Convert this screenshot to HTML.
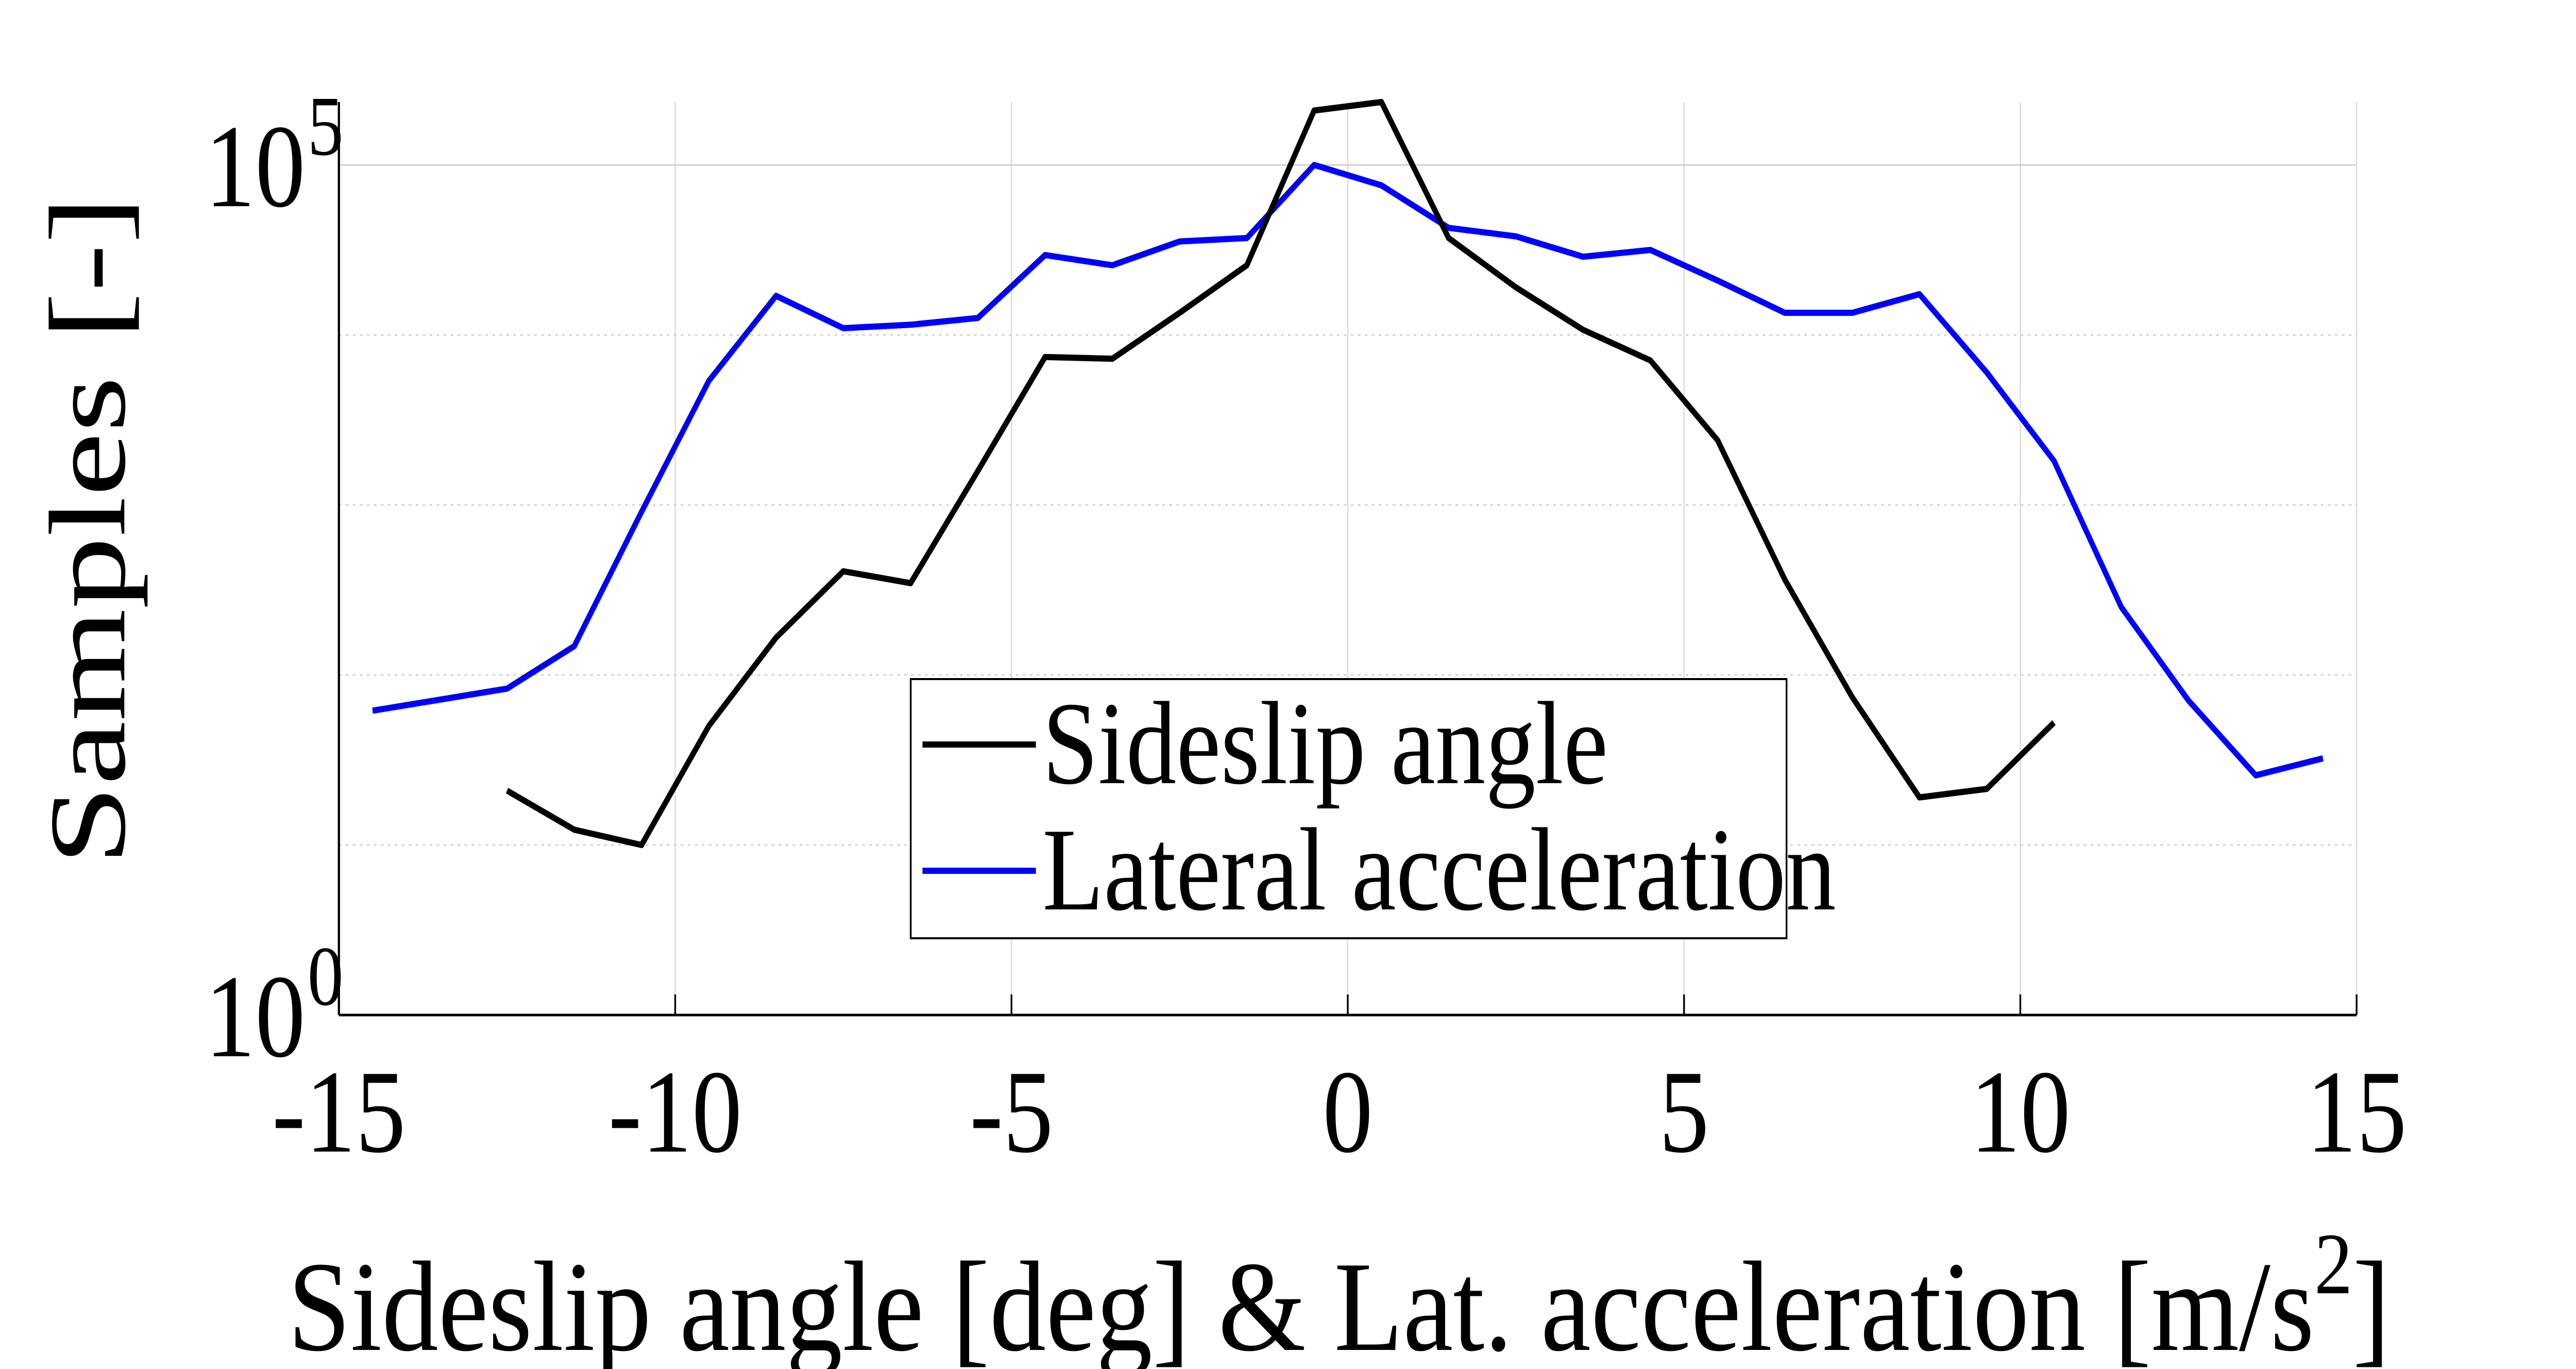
<!DOCTYPE html>
<html><head><meta charset="utf-8"><style>
html,body{margin:0;padding:0;background:#fff;width:100%;height:100%;overflow:hidden;}
svg{display:block;font-family:"Liberation Serif",serif;width:100vw;height:100vh;}
</style></head><body>
<svg id="chart" viewBox="0 0 5906 2657" preserveAspectRatio="none" xmlns="http://www.w3.org/2000/svg">
<rect width="5906" height="2657" fill="#fff"/>
<g id="grid"></g>
<g id="series"></g>
<g id="axes"></g>
<text x="660" y="2620" font-size="250" textLength="4820" lengthAdjust="spacingAndGlyphs">Sideslip angle [deg] &amp; Lat. acceleration [m/s<tspan dy="-110" font-size="170">2</tspan><tspan dy="110">]</tspan></text>
<text transform="translate(285,1680) rotate(-90)" font-size="250" textLength="1300" lengthAdjust="spacingAndGlyphs">Samples [-]</text>
<g>
<rect x="2088" y="1318" width="2008" height="503" fill="#fff" stroke="#000" stroke-width="4"/>
<line x1="2115" y1="1445" x2="2375" y2="1445" stroke="#000" stroke-width="12"/>
<text x="2390" y="1520" font-size="230">Sideslip angle</text>
<line x1="2115" y1="1690" x2="2375" y2="1690" stroke="#0000ff" stroke-width="12"/>
<text x="2390" y="1765" font-size="230">Lateral acceleration</text>
</g>
</svg>
<script>
const xTicks=[-15,-10,-5,0,5,10,15];
const yTickExps=[0,1,2,3,4,5];
const sideslipX=[-12.5,-11.5,-10.5,-9.5,-8.5,-7.5,-6.5,-5.5,-4.5,-3.5,-2.5,-1.5,-0.5,0.5,1.5,2.5,3.5,4.5,5.5,6.5,7.5,8.5,9.5,10.5];
const sideslipLog=[1.32,1.09,1.0,1.7,2.22,2.61,2.54,3.2,3.87,3.86,4.13,4.41,5.32,5.37,4.57,4.28,4.03,3.85,3.38,2.56,1.87,1.28,1.33,1.72];
const lateralX=[-14.5,-12.5,-11.5,-10.5,-9.5,-8.5,-7.5,-6.5,-5.5,-4.5,-3.5,-2.5,-1.5,-0.5,0.5,1.5,2.5,3.5,4.5,5.5,6.5,7.5,8.5,9.5,10.5,11.5,12.5,13.5,14.5];
const lateralLog=[1.79,1.92,2.17,2.96,3.73,4.23,4.04,4.06,4.1,4.47,4.41,4.55,4.57,5.0,4.88,4.63,4.58,4.46,4.5,4.32,4.13,4.13,4.24,3.78,3.26,2.4,1.85,1.41,1.51];

const NS="http://www.w3.org/2000/svg";
const L=777,R=5403,T=198,B=1970;
const xMin=-15,xMax=15,yMin=0,yMax=5.37;
const sx=v=>L+(v-xMin)/(xMax-xMin)*(R-L);
const sy=v=>B-(v-yMin)/(yMax-yMin)*(B-T);
function mk(tag,attrs,parent){const e=document.createElementNS(NS,tag);for(const k in attrs)e.setAttribute(k,attrs[k]);parent.appendChild(e);return e;}
const grid=document.getElementById('grid'),axes=document.getElementById('axes'),series=document.getElementById('series');
xTicks.forEach(t=>{
  const g=mk('line',{x1:sx(t),x2:sx(t),y1:T,y2:B,stroke:'#dcdcdc','stroke-width':3},grid);
  
  
  const tk=mk('line',{x1:sx(t),x2:sx(t),y1:B,y2:B-40,stroke:'#000','stroke-width':4},axes);
  
  
  const tx=mk('text',{x:sx(t),y:2235,'font-size':230,'text-anchor':'middle'},axes);
  tx.textContent=String(t);
  
  
});
yTickExps.forEach(e=>{
  if(e>0){
    const g=mk('line',{x1:L,x2:R,y1:sy(e),y2:sy(e),stroke:'#cfcfcf','stroke-width':3,'stroke-dasharray':e===5?'none':'6 10'},grid);
    
    
  }
});
[0,5].forEach(e=>{
  const tx=mk('text',{x:700,y:sy(e)+80,'font-size':230,'text-anchor':'end'},axes);
  tx.textContent='10';
  
  
  const sp=mk('text',{x:705,y:sy(e)-20,'font-size':165},axes);
  sp.textContent=String(e);
  
  
});
const ax1=mk('line',{x1:L,x2:R,y1:B,y2:B,stroke:'#000','stroke-width':5},axes);


const ax2=mk('line',{x1:L,x2:L,y1:T,y2:B,stroke:'#000','stroke-width':5},axes);


function line(xs,ys,color,name){
  const p=mk('polyline',{points:xs.map((x,i)=>sx(x)+','+sy(ys[i])).join(' '),fill:'none',stroke:color,'stroke-width':12,'stroke-linejoin':'round'},series);
  
  
}
line(lateralX,lateralLog,'#0000ff','lateral-acceleration-line');
line(sideslipX,sideslipLog,'#000','sideslip-angle-line');
</script>
</body></html>
